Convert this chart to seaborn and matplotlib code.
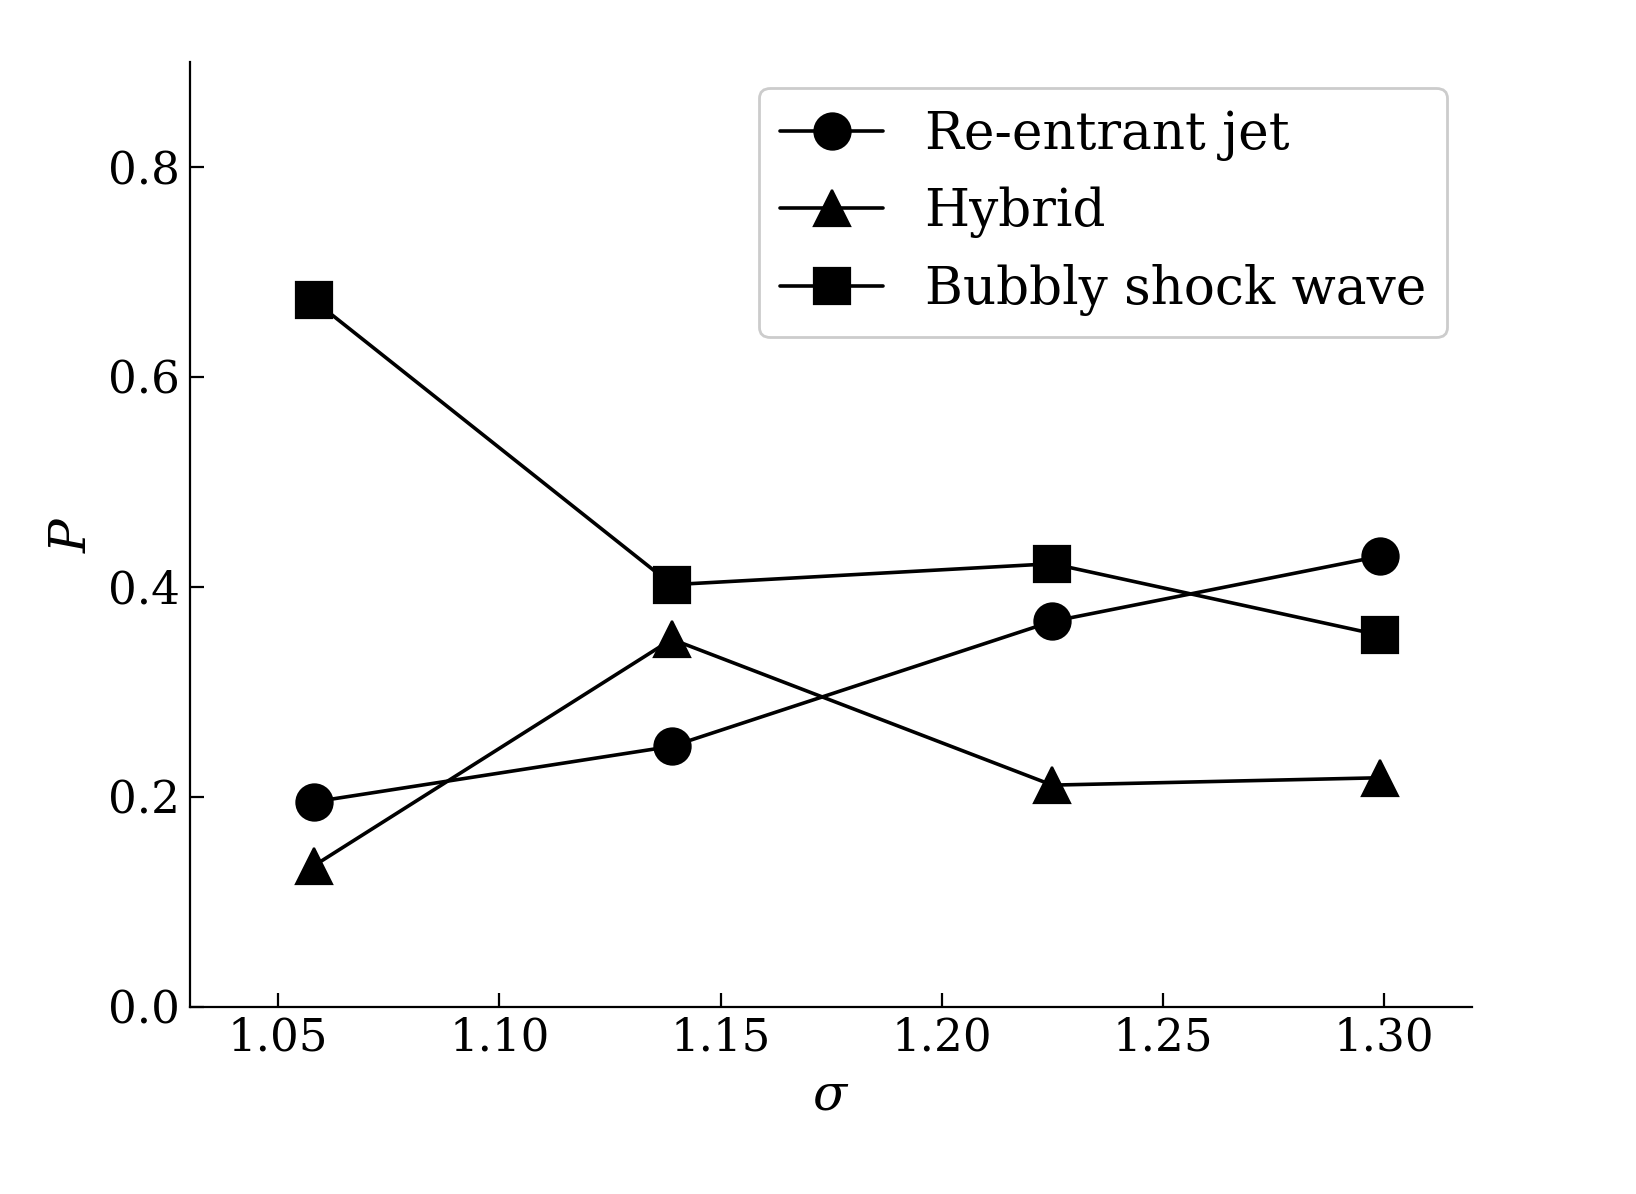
import seaborn as sns
import matplotlib.pyplot as plt
import pandas as pd
import numpy as np

# Valores
sigma = [1.058, 1.139, 1.225, 1.299]
reentrant = [0.195, 0.248, 0.367, 0.429]
hybrid = [0.134, 0.350, 0.211, 0.218]
bubbly = [0.673, 0.402, 0.422, 0.354]

series = ['Re-entrant jet', 'Hybrid', 'Bubbly shock wave']
marcadores = ['o', '^', 's']

df = pd.DataFrame({
    'sigma': sigma * 3,
    'P': reentrant + hybrid + bubbly,
    'Regime': [s for s in series for _ in sigma],
})

sns.set_style('ticks')
plt.rcParams['font.family'] = ['DejaVu Serif']
plt.rcParams['mathtext.fontset'] = 'dejavuserif'
plt.rcParams['text.color'] = 'black'
plt.rcParams['axes.labelcolor'] = 'black'
plt.rcParams['xtick.color'] = 'black'
plt.rcParams['ytick.color'] = 'black'
plt.rcParams['axes.edgecolor'] = 'black'

fig = plt.figure(figsize=(8.18, 5.97), dpi=200)
ax = fig.add_axes([0.116, 0.157, 0.784, 0.791])

for nome, m in zip(series, marcadores):
    sub = df[df['Regime'] == nome]
    sns.lineplot(x='sigma', y='P', data=sub, ax=ax, color='black', marker=m,
                 markersize=13, markeredgecolor='black', markeredgewidth=0.8,
                 linewidth=1.3, label=nome)

ax.set_xlim(1.03, 1.32)
ax.set_ylim(0, 0.9)
ax.set_xticks([1.05, 1.10, 1.15, 1.20, 1.25, 1.30])
ax.set_yticks([0.0, 0.2, 0.4, 0.6, 0.8])
ax.tick_params(direction='in', length=5, width=0.8, labelsize=16.3)
ax.set_xlabel(r'$\sigma$', fontsize=18)
ax.set_ylabel(r'$P$', fontsize=18)
sns.despine(ax=ax)
for s in ['left', 'bottom']:
    ax.spines[s].set_linewidth(0.8)

ax.legend(loc='upper right', fontsize=18.6, frameon=True, fancybox=True,
          edgecolor='#cccccc', framealpha=1)

fig.savefig('out.png', dpi=200)
